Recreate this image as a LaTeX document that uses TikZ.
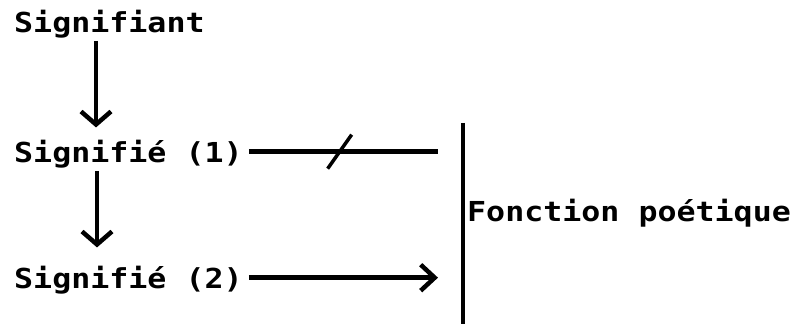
\documentclass[tikz,border=0pt]{standalone}
\usepackage{fontspec}
\newfontfamily\typewriter{DejaVu Sans Mono}[FakeStretch=1.15]
\usetikzlibrary{arrows.meta}

\tikzset{
  mot/.style={font=\typewriter\bfseries\fontsize{27.5}{30}\selectfont, inner xsep=6pt, inner ysep=2pt, anchor=base west},
  trait/.style={line width=4.5pt},
  fleche/.style={trait, -{Straight Barb[length=13pt,width=30pt]}},
  flecheh/.style={trait, -{Straight Barb[length=14pt,width=26pt]}}
}

\begin{document}
\begin{tikzpicture}[x=1pt,y=1pt]
  \useasboundingbox (0,0) rectangle (809,324);
  \node[mot] (sig) at (8,291) {Signifiant};
  \node[mot] (s1) at (8,161) {Signifié (1)};
  \node[mot] (s2) at (8,35) {Signifié (2)};
  \node[mot] (fp) at (461,102) {Fonction poétique};
  \coordinate (haut) at (463,201);
  \coordinate (bas) at (463,0);
  \draw[line width=4.5pt] (haut) -- (bas);
  \draw[fleche, shorten >=11pt] ([xshift=88pt]sig.south west) -- ([xshift=88pt]s1.north west);
  \draw[fleche, shorten >=17pt] ([xshift=89pt]s1.south west) -- ([xshift=89pt]s2.north west);
  \draw[trait] ([yshift=3pt]s1.east) -- coordinate[pos=0.48] (coupe) ([xshift=-25pt,yshift=3pt]s1.east -| haut);
  \draw[line width=3.5pt] (coupe) ++(-12,-17) -- ++(24,34);
  \draw[flecheh] ([yshift=3pt]s2.east) -- ([xshift=-25pt,yshift=3pt]s2.east -| haut);
\end{tikzpicture}
\end{document}
